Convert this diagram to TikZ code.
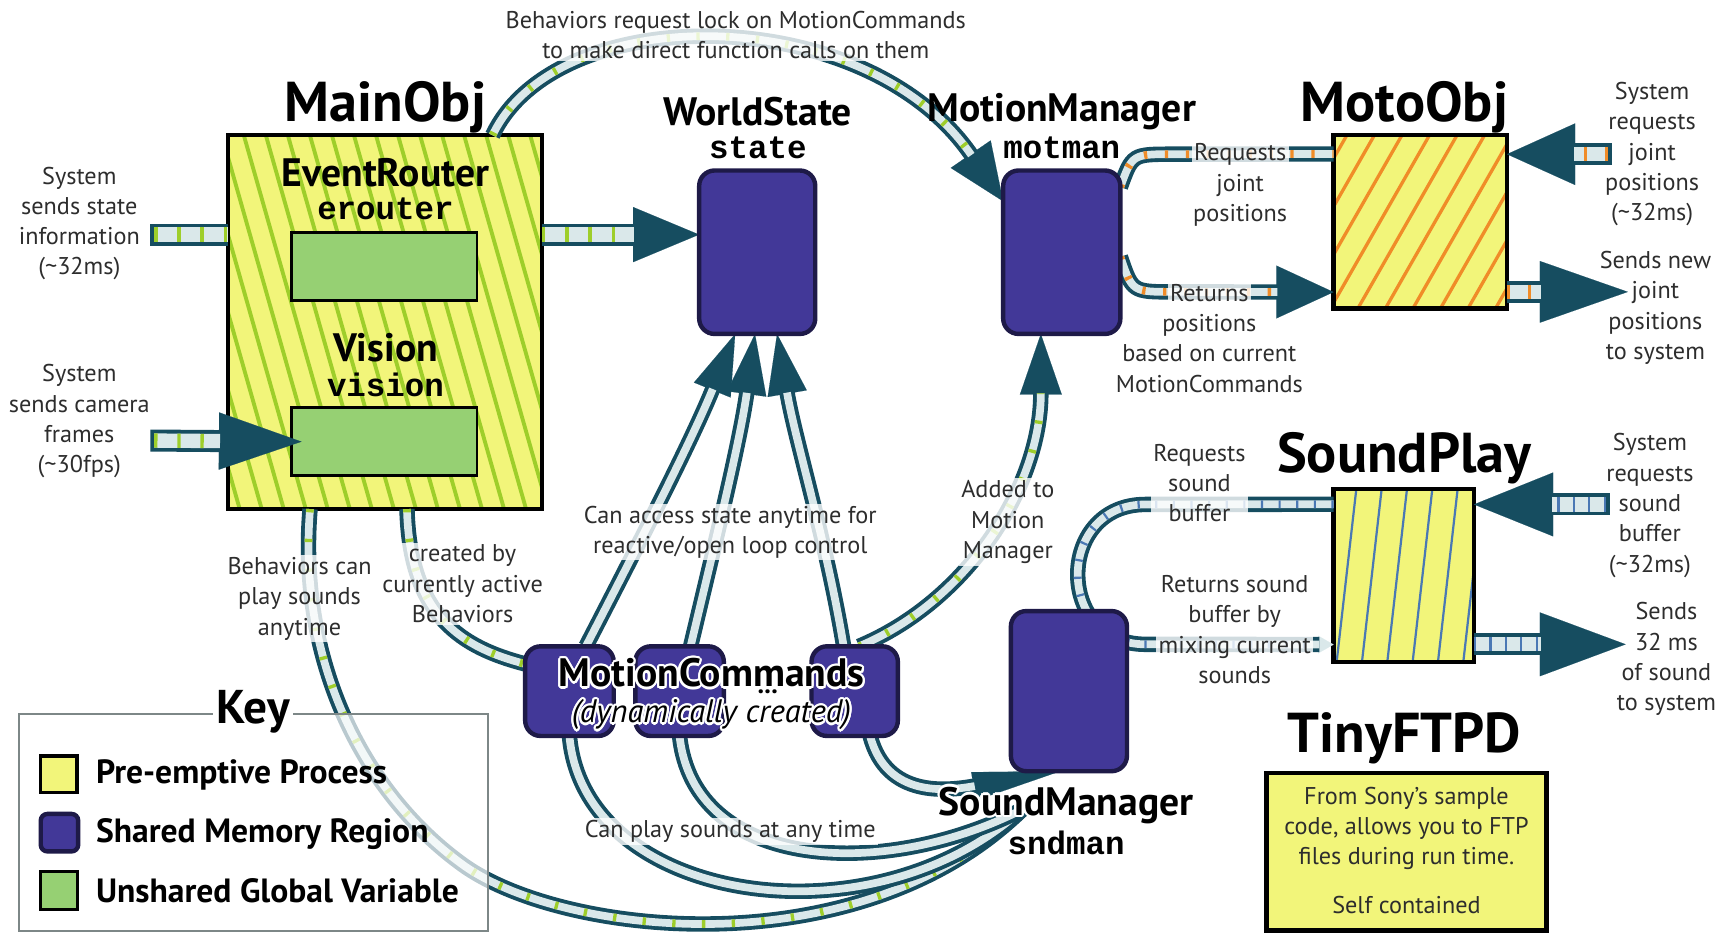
\documentclass[tikz,border=0pt]{standalone}
\usepackage{fontspec}
\setmainfont{PT Sans}
\newfontfamily\monof{Liberation Mono}
\usepackage[copies]{contour}
\contourlength{2pt}
\usetikzlibrary{arrows.meta}
\definecolor{yelc}{RGB}{242,245,122}
\definecolor{limec}{RGB}{158,206,42}
\definecolor{greenc}{RGB}{150,208,115}
\definecolor{purpc}{RGB}{66,56,152}
\definecolor{purpb}{RGB}{30,26,72}
\definecolor{tubed}{RGB}{22,77,96}
\definecolor{tubel}{RGB}{218,232,234}
\definecolor{orgc}{RGB}{240,140,40}
\definecolor{bluec}{RGB}{74,120,180}
\definecolor{keyb}{RGB}{125,135,135}
\definecolor{labc}{RGB}{45,45,45}
\newcommand\fsbody{\fontsize{22}{27.5}\selectfont}
\newcommand\fsbig{\bfseries\fontsize{51}{54}\selectfont}
\newcommand\fsmid{\bfseries\fontsize{36}{38}\selectfont}
\newcommand\fsmono{\monof\bfseries\fontsize{29.5}{31}\selectfont}
\newcommand\fskey{\bfseries\fontsize{30.5}{32}\selectfont}
\tikzset{
  procbox/.style={rectangle, fill=yelc, inner sep=0pt},
  boxline/.style={draw=black, line width=4pt},
  varbox/.style={rectangle, draw=black, line width=2.5pt, fill=greenc, inner sep=0pt, minimum width=168pt, minimum height=62pt},
  shmem/.style={rectangle, rounded corners=14pt, draw=purpb, line width=4pt, fill=purpc, inner sep=0pt},
  tube/.style={draw=tubel, line width=7pt, preaction={draw=tubed, line width=14pt}},
  fattube/.style={draw=tubel, line width=13pt, preaction={draw=tubed, line width=20pt}},
  fattubec/.style={draw=tubel, line width=13pt, preaction={draw=tubed, line width=20pt, shorten <=-3.5pt}},
  stripes/.style n args={3}{postaction={draw=#1, line width=#2, dash pattern=#3}},
  tipto/.style n args={3}{preaction={draw=#3, line width=0.1pt, shorten >=0pt, -{Triangle[length=#1, width=#2]}}},
  lab/.style={font=\fsbody, text=labc, align=center, inner sep=1pt},
  labbg/.style={lab, fill=white, fill opacity=0.8, text opacity=1, inner sep=2pt},
  bigtitle/.style={font=\fsbig, inner sep=0pt},
  midtitle/.style={font=\fsmid, inner sep=0pt},
  monolab/.style={font=\fsmono, inner sep=0pt},
}
\begin{document}
\begin{tikzpicture}[x=1pt, y=-1pt]
\useasboundingbox (0,0) rectangle (1568,862);

% ---------- MainObj ----------
\node[procbox, minimum width=285pt, minimum height=339pt] (mainobj) at (349.5,292.5) {};
\begin{scope}
  \clip (mainobj.north west) rectangle (mainobj.south east);
  \foreach \i in {0,...,21} \draw[limec, line width=3.5pt] (100+\i*20,118) -- ++(99,349);
\end{scope}
\draw[boxline] (mainobj.north west) rectangle (mainobj.south east);
\node[varbox] (er) at (349,242) {};
\node[varbox] (vis) at (349,401) {};

% ---------- MotoObj ----------
\node[procbox, minimum width=157pt, minimum height=157pt] (moto) at (1289.5,201.5) {};
\begin{scope}
  \clip (moto.north west) rectangle (moto.south east);
  \foreach \i in {0,...,11} \draw[orgc, line width=3pt] (1105+\i*25,285) -- ++(95,-166);
\end{scope}
\draw[boxline] (moto.north west) rectangle (moto.south east);

% ---------- SoundPlay ----------
\node[procbox, minimum width=127pt, minimum height=157pt] (sp) at (1274.5,522.5) {};
\begin{scope}
  \clip (sp.north west) rectangle (sp.south east);
  \foreach \i in {0,...,7} \draw[bluec, line width=2pt] (1190+\i*23,606) -- ++(19,-167);
\end{scope}
\draw[boxline] (sp.north west) rectangle (sp.south east);

% ---------- TinyFTPD ----------
\node[procbox, draw=black, line width=4pt, minimum width=254pt, minimum height=143pt] (ftp) at (1277,773.5) {};

% ---------- shared memory boxes (positions only, drawn later) ----------
\path (687.5,229) node[minimum width=105pt, minimum height=148pt, inner sep=0pt] (ws) {};
\path (964,229) node[minimum width=106pt, minimum height=148pt, inner sep=0pt] (mm) {};
\path (970.5,627.5) node[minimum width=105pt, minimum height=145pt, inner sep=0pt] (sm) {};
\path (517,627.5) node[minimum width=80pt, minimum height=81pt, inner sep=0pt] (mc1) {};
\path (617,627.5) node[minimum width=80pt, minimum height=81pt, inner sep=0pt] (mc2) {};
\path (776,627.5) node[minimum width=78pt, minimum height=81pt, inner sep=0pt] (mc3) {};

\coordinate (inA) at (140,213);
\coordinate (inB) at (140,400);
\coordinate (rjin) at (1460,140);
\coordinate (rjout) at (1478,265);
\coordinate (sbin) at (1458,458);
\coordinate (sbout) at (1476,585);
\coordinate (sndin) at (928,735);

% ---------- connectors ----------
\draw[fattubec, stripes={limec}{13pt}{on 3pt off 18pt}] (inA) -- (inA -| mainobj.west);
\draw[tipto={60pt}{50pt}{tubed}, fattube, stripes={limec}{13pt}{on 3pt off 18pt}, shorten >=59pt]
  (inA -| mainobj.east) -- (inA -| ws.west);
\draw[tipto={75pt}{52pt}{tubed}, fattubec, stripes={limec}{13pt}{on 3pt off 18pt}, shorten >=74pt]
  (inB) -- ([xshift=10pt]vis.west);

% Behaviors lock arc
\draw[tipto={52pt}{44pt}{tubed}, tube, stripes={limec}{7pt}{on 3pt off 24pt}, shorten >=51pt]
  ([xshift=-45pt]mainobj.north east) .. controls (505,0) and (785,0) .. ([yshift=-28pt]mm.north west);

% motman <-> MotoObj
\draw[tube, stripes={orgc}{7pt}{on 3pt off 16pt}]
  ([yshift=-15pt]mm.north east) .. controls (1028,140) .. (1065,140) -- ([yshift=-17pt]moto.north west);
\draw[tipto={52pt}{48pt}{tubed}, tube, stripes={orgc}{7pt}{on 3pt off 16pt}, shorten >=51pt]
  ([yshift=70pt]mm.south east) .. controls (1028,265) .. (1065,265) -- ([yshift=15pt]moto.south west);
\draw[tipto={62pt}{56pt}{tubed}, fattubec, stripes={orgc}{13pt}{on 3pt off 16pt}, shorten >=61pt]
  (rjin) -- (rjin -| moto.east);
\draw[tipto={80pt}{56pt}{tubed}, fattube, stripes={orgc}{13pt}{on 3pt off 16pt}, shorten >=79pt]
  (rjout -| moto.east) -- (rjout);

% MotionCommands -> WorldState
\draw[tipto={55pt}{36pt}{tubed}, tube, shorten >=54pt]
  ([xshift=15pt]mc1.north) .. controls (582,490) and (628,400) .. ([xshift=-20pt]ws.south);
\draw[tipto={55pt}{36pt}{tubed}, tube, shorten >=54pt]
  ([xshift=10pt]mc2.north) .. controls (650,490) and (672,400) .. ([xshift=-2pt]ws.south);
\draw[tipto={55pt}{36pt}{tubed}, tube, shorten >=54pt]
  ([xshift=-10pt]mc3.north) .. controls (750,490) and (722,400) .. ([xshift=18pt]ws.south);

% Added to Motion Manager
\draw[tipto={55pt}{38pt}{tubed}, tube, stripes={limec}{7pt}{on 3pt off 24pt}, shorten >=54pt]
  ([xshift=4pt]mc3.north) .. controls (880,545) and (945,440) .. ([xshift=-19pt]mm.south);

% created by currently active Behaviors
\draw[tube, stripes={limec}{7pt}{on 3pt off 24pt}]
  ([xshift=20pt]mainobj.south) .. controls (372,560) and (420,588) .. ([yshift=-16pt]mc1.north west);

% Behaviors can play sounds anytime
\draw[tube, stripes={limec}{7pt}{on 3pt off 24pt}]
  ([xshift=-68pt]mainobj.south) .. controls (270,600) and (330,720) .. (420,785)
  .. controls (510,850) and (780,880) .. (sndin);

% MotionCommands -> SoundManager
\draw[tube] (mc1.south) .. controls (530,820) and (790,860) .. (sndin);
\draw[tube] (mc2.south) .. controls (630,790) and (800,800) .. (sndin);
\draw[tipto={80pt}{26pt}{tubed}, tube, shorten >=79pt]
  ([xshift=14pt]mc3.south) .. controls (805,725) and (860,718) .. ([xshift=45pt]sm.south west);

% SoundManager <-> SoundPlay loop
\draw[tipto={14pt}{16pt}{tubel}, tube, stripes={bluec}{7pt}{on 2pt off 14pt}, shorten >=13pt]
  ([yshift=-14pt]sp.north west) -- (1040,458) .. controls (958,458) and (958,585) .. (1040,585)
  -- ([yshift=16pt]sp.south west);
\draw[tipto={72pt}{58pt}{tubed}, fattubec, stripes={bluec}{13pt}{on 2pt off 12pt}, shorten >=71pt]
  (sbin) -- (sbin -| sp.east);
\draw[tipto={78pt}{58pt}{tubed}, fattube, stripes={bluec}{13pt}{on 2pt off 12pt}, shorten >=77pt]
  (sbout -| sp.east) -- (sbout);

% ---------- shared memory boxes drawn ----------
\draw[shmem] (ws.north west) rectangle (ws.south east);
\draw[shmem] (mm.north west) rectangle (mm.south east);
\draw[shmem] (sm.north west) rectangle (sm.south east);
\draw[shmem] (mc1.north west) rectangle (mc1.south east);
\draw[shmem] (mc2.north west) rectangle (mc2.south east);
\draw[shmem] (mc3.north west) rectangle (mc3.south east);

% ---------- Key ----------
\node[draw=keyb, line width=2pt, fill=white, fill opacity=0.7, minimum width=426pt, minimum height=197pt, inner sep=0pt] (keybox) at (230,746.5) {};
\node[fill=white, inner sep=3pt, font=\bfseries\fontsize{43}{45}\selectfont] (keyt) at (230,646) {Key};
\node[draw=black, line width=3pt, fill=yelc, minimum size=33pt, inner sep=0pt] (k1) at (53.5,703) {};
\node[draw=purpb, line width=4pt, fill=purpc, rounded corners=6pt, minimum size=34pt, inner sep=0pt] (k2) at (54,756) {};
\node[draw=black, line width=2.5pt, fill=greenc, minimum size=34pt, inner sep=0pt] (k3) at (53.5,808.5) {};
\node[anchor=west, font=\fskey, inner sep=0pt] (k1t) at (87,704) {Pre-emptive Process};
\node[anchor=west, font=\fskey, inner sep=0pt] (k2t) at (87,757) {Shared Memory Region};
\node[anchor=west, font=\fskey, inner sep=0pt] (k3t) at (87,809) {Unshared Global Variable};

% ---------- titles ----------
\node[bigtitle] (tMain) at (350,97) {MainObj};
\node[midtitle] (tER) at (350,157) {EventRouter};
\node[monolab] (tEr) at (350,190) {erouter};
\node[midtitle] (tVis) at (350,316) {Vision};
\node[monolab] (tVs) at (350,349) {vision};
\node[midtitle] (tWS) at (688,101) {WorldState};
\node[monolab] (tWs) at (688,134) {state};
\node[midtitle] (tMM) at (964,101) {MotionManager};
\node[monolab] (tMm) at (964,134) {motman};
\node[bigtitle] (tMoto) at (1275,97) {MotoObj};
\node[bigtitle] (tSP) at (1275,416) {SoundPlay};
\node[font=\fsmid, inner sep=0pt] (tSM) at (968,732) {\contour{white}{SoundManager}};
\node[monolab] (tSm) at (968,765) {sndman};
\node[bigtitle] (tFTP) at (1275,670) {TinyFTPD};
\node[font=\fsmid, inner sep=0pt] (tMC) at (646,612) {\contour{white}{MotionCommands}};
\node[font=\itshape\fontsize{29.5}{31}\selectfont, inner sep=0pt] (tMC2) at (646,650) {\contour{white}{(dynamically created)}};
\node[font=\bfseries\fontsize{24}{24}\selectfont, inner sep=0pt] (tdots) at (697,628) {...};

% ---------- labels ----------
\node[lab] (l1) at (72,203) {System\\sends state\\information\\(\textasciitilde32ms)};
\node[lab] (l2) at (72,382.5) {System\\sends camera\\frames\\(\textasciitilde30fps)};
\node[labbg] (l3) at (668,32) {Behaviors request lock on MotionCommands\\to make direct function calls on them};
\node[labbg] (l4a) at (1126,140) {Requests};
\node[lab] (l4b) at (1126,182) {joint\\positions};
\node[labbg] (l5a) at (1098,266) {Returns};
\node[lab] (l5b) at (1098,321) {positions\\based on current\\MotionCommands};
\node[lab] (l6) at (1500,140) {System\\requests\\joint\\positions\\(\textasciitilde32ms)};
\node[lab] (l7) at (1503,279.5) {Sends new\\joint\\positions\\to system};
\node[labbg] (l8) at (915,474) {Added to\\Motion\\Manager};
\node[labbg] (l9) at (663,483) {Can access state anytime for\\reactive/open loop control};
\node[labbg] (l10) at (420,530) {created by\\currently active\\Behaviors};
\node[labbg] (l11) at (272,543.5) {Behaviors can\\play sounds\\anytime};
\node[labbg] (l12) at (663,755) {Can play sounds at any time};
\node[labbg] (l13) at (1089,438.5) {Requests\\sound\\buffer};
\node[labbg] (l14) at (1121,571.5) {Returns sound\\buffer by\\mixing current\\sounds};
\node[lab] (l15) at (1498,459) {System\\requests\\sound\\buffer\\(\textasciitilde32ms)};
\node[lab] (l16) at (1513,598.5) {Sends\\32 ms\\of sound\\to system};
\node[lab] (l17) at (1277,752) {From Sony's sample\\code, allows you to FTP\\files during run time.};
\node[lab] (l18) at (1277,822) {Self contained};
\end{tikzpicture}
\end{document}
